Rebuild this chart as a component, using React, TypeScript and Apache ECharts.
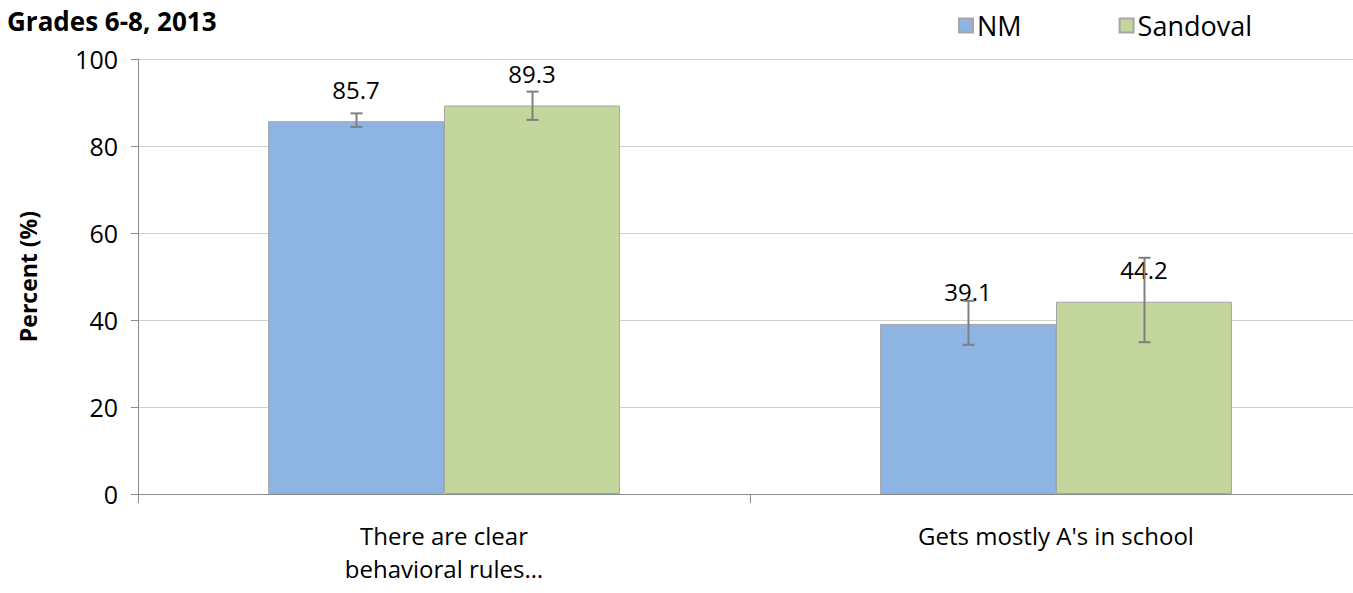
import React, { useEffect, useRef } from "react";
import * as echarts from "echarts";

const categories = ["There are clear\nbehavioral rules…", "Gets mostly A's in school"];
const seriesNames = ["NM", "Sandoval"];
const nmValues = [85.7, 39.1];
const sandovalValues = [89.3, 44.2];
const nmLow = [84.4, 34.3];
const nmHigh = [87.5, 44.4];
const sandovalLow = [86.0, 34.9];
const sandovalHigh = [92.5, 54.3];
const yTicks = [0, 20, 40, 60, 80, 100];

const FONT = "'Open Sans', 'Noto Sans', sans-serif";
const GAP = 0.425;

function errorSeries(name: string, low: number[], high: number[], side: number) {
  return {
    type: "custom",
    name: name + " error",
    z: 5,
    data: low.map((l, i) => [i, l, high[i]]),
    encode: { x: 0, y: [1, 2] },
    renderItem: (params: any, api: any) => {
      const idx = api.value(0);
      const cw = api.size([1, 0])[0];
      const bw = (cw * (1 - GAP)) / 2;
      const lowPt = api.coord([idx, api.value(1)]);
      const highPt = api.coord([idx, api.value(2)]);
      const x = Math.round(lowPt[0] + side * bw / 2) + 0.5;
      const cap = 6;
      const style = { stroke: "#7f7f7f", lineWidth: 2 };
      return {
        type: "group",
        children: [
          { type: "line", shape: { x1: x, y1: highPt[1], x2: x, y2: lowPt[1] }, style },
          { type: "line", shape: { x1: x - cap, y1: highPt[1], x2: x + cap, y2: highPt[1] }, style },
          { type: "line", shape: { x1: x - cap, y1: lowPt[1], x2: x + cap, y2: lowPt[1] }, style },
        ],
      };
    },
  };
}

export default function App() {
  const ref = useRef<HTMLDivElement>(null);
  useEffect(() => {
    if (!ref.current) return;
    const chart = echarts.init(ref.current, undefined, { renderer: "svg" });
    const labelCfg = {
      show: true,
      position: "top",
      distance: 20,
      color: "#000",
      fontSize: 24,
      fontFamily: FONT,
      formatter: (p: any) => p.value.toFixed(1),
    };
    chart.setOption({
      animation: false,
      backgroundColor: "#fff",
      textStyle: { fontFamily: FONT },
      title: {
        text: "Grades 6-8, 2013",
        left: 2,
        top: 3,
        textStyle: { fontSize: 26, fontWeight: "bold", color: "#000", fontFamily: FONT },
      },
      legend: {
        data: seriesNames,
        left: 953,
        top: 7,
        itemWidth: 14,
        itemHeight: 14,
        itemGap: 97,
        icon: "rect",
        textStyle: { fontSize: 27, color: "#000", fontFamily: FONT, padding: [0, 0, 0, -1] },
      },
      grid: { left: 138, width: 1224, top: 59, height: 435, containLabel: false, outerBoundsMode: "none" },
      xAxis: {
        type: "category",
        data: categories,
        axisLine: { lineStyle: { color: "#8c8c8c", width: 1 } },
        axisTick: { show: true, length: 9, lineStyle: { color: "#8c8c8c" } },
        axisLabel: { fontSize: 24, color: "#000", fontFamily: FONT, lineHeight: 33, margin: 25, interval: 0 },
      },
      yAxis: {
        type: "value",
        min: yTicks[0],
        max: yTicks[yTicks.length - 1],
        interval: 20,
        name: "Percent (%)",
        nameLocation: "middle",
        nameGap: 99,
        nameTextStyle: { fontSize: 23, fontWeight: "bold", color: "#000", fontFamily: FONT },
        axisLine: { show: true, lineStyle: { color: "#8c8c8c" } },
        axisTick: { show: true, length: 7, lineStyle: { color: "#8c8c8c" } },
        axisLabel: { fontSize: 25, color: "#000", fontFamily: FONT, margin: 20 },
        splitLine: { lineStyle: { color: "#d0d0d0" } },
      },
      series: [
        {
          type: "bar",
          name: seriesNames[0],
          data: nmValues,
          barGap: "0%",
          barCategoryGap: GAP * 100 + "%",
          itemStyle: { color: "#8eb4e3", borderColor: "#a6a6a6", borderWidth: 1 },
          label: labelCfg,
        },
        {
          type: "bar",
          name: seriesNames[1],
          data: sandovalValues,
          barGap: "0%",
          barCategoryGap: GAP * 100 + "%",
          itemStyle: { color: "#c3d69b", borderColor: "#a6a6a6", borderWidth: 1 },
          label: labelCfg,
        },
        errorSeries(seriesNames[0], nmLow, nmHigh, -1),
        errorSeries(seriesNames[1], sandovalLow, sandovalHigh, 1),
      ],
    });
    return () => chart.dispose();
  }, []);
  return <div ref={ref} style={{ width: 1353, height: 593, position: "absolute", left: 0, top: 0, overflow: "hidden" }} />;
}
